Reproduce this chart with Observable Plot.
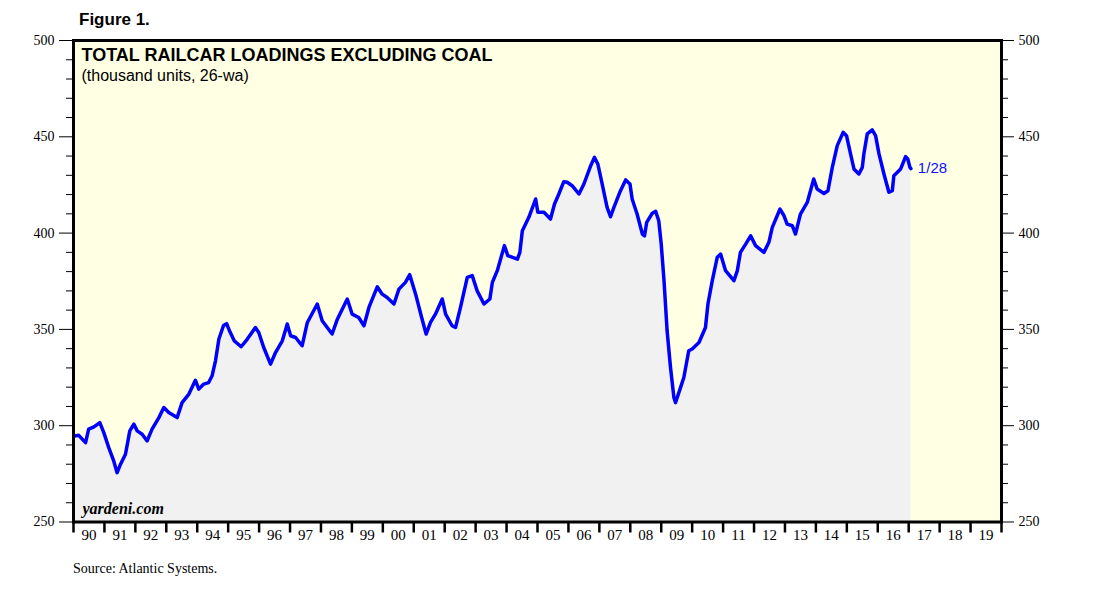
<!DOCTYPE html>
<html>
<head>
<meta charset="utf-8">
<script src="https://cdn.jsdelivr.net/npm/d3@7"></script>
<script src="https://cdn.jsdelivr.net/npm/@observablehq/plot@0.6"></script>
<style>
  html, body { margin: 0; padding: 0; background: #fff; }
  #wrap { position: relative; width: 1102px; height: 603px; overflow: hidden; }
  #fig { position: absolute; left: 79px; top: 10px; font: bold 17px "Liberation Sans", Arial, sans-serif; color: #000; }
  #src { position: absolute; left: 73px; top: 561px; font: 14px "Liberation Serif", "Times New Roman", serif; color: #000; }
  svg { position: absolute; left: 0; top: 0; }
</style>
</head>
<body>
<div id="wrap">
  <div id="fig">Figure 1.</div>
  <div id="src">Source: Atlantic Systems.</div>
</div>
<script>
// Decimal year of each reading
const dates = [1990.03,1990.17,1990.39,1990.49,1990.66,1990.85,1990.98,1991.14,1991.30,1991.41,1991.52,1991.68,1991.82,1991.95,
1992.06,1992.22,1992.38,1992.54,1992.76,1992.92,1993.08,1993.35,1993.51,1993.73,1993.94,1994.05,1994.21,1994.37,1994.48,1994.59,
1994.70,1994.85,1994.95,1995.05,1995.20,1995.42,1995.62,1995.88,1995.99,1996.15,1996.37,1996.53,1996.75,1996.91,1997.02,1997.18,
1997.39,1997.56,1997.88,1998.04,1998.36,1998.53,1998.85,1999.01,1999.22,1999.39,1999.55,1999.82,1999.98,2000.14,2000.36,2000.52,
2000.73,2000.87,2001.06,2001.27,2001.40,2001.54,2001.70,2001.92,2002.03,2002.24,2002.35,2002.51,2002.73,2002.89,2003.05,2003.27,
2003.46,2003.54,2003.70,2003.93,2004.04,2004.35,2004.43,2004.51,2004.72,2004.94,2005.01,2005.21,2005.42,2005.55,2005.69,2005.85,
2005.96,2006.12,2006.34,2006.50,2006.72,2006.84,2006.95,2007.09,2007.25,2007.36,2007.47,2007.66,2007.85,2007.99,2008.06,2008.22,
2008.39,2008.46,2008.53,2008.71,2008.82,2008.92,2009.00,2009.09,2009.19,2009.30,2009.41,2009.46,2009.57,2009.73,2009.89,2010.00,
2010.22,2010.43,2010.51,2010.65,2010.81,2010.92,2011.08,2011.35,2011.46,2011.56,2011.73,2011.89,2012.05,2012.32,2012.48,2012.59,
2012.84,2012.97,2013.07,2013.24,2013.34,2013.50,2013.72,2013.93,2014.04,2014.26,2014.39,2014.53,2014.69,2014.88,2014.99,2015.12,
2015.23,2015.39,2015.50,2015.55,2015.66,2015.82,2015.93,2016.04,2016.20,2016.36,2016.47,2016.52,2016.74,2016.90,2016.97,2017.04,2017.07];

// Total railcar loadings excluding coal (thousand units, 26-wa)
const values = [294.7,295.0,291.2,298.2,299.4,301.6,296.4,288.6,281.7,275.6,280.0,285.2,297.3,300.8,
297.3,295.6,292.1,298.2,304.2,309.4,306.8,304.2,312.0,316.4,323.6,319.0,321.6,322.4,325.9,333.7,
345.0,352.0,353.0,349.0,344.0,341.0,345.0,351.0,348.4,340.6,332.0,338.0,344.1,352.8,346.7,345.8,
341.5,353.6,363.2,354.5,347.6,355.3,365.8,357.9,356.2,351.9,361.4,372.1,368.3,366.6,363.2,370.9,
374.4,378.4,368.3,355.3,347.6,353.6,357.9,365.8,357.9,351.9,351.0,361.4,377.0,377.9,370.0,363.2,
365.8,374.4,380.5,393.5,388.3,386.5,390.0,401.2,408.2,417.7,410.8,410.8,407.3,415.1,420.3,426.7,
426.4,424.6,420.3,425.5,435.0,439.3,435.9,425.5,413.4,408.5,413.4,421.2,427.6,425.5,417.7,409.9,
399.5,398.6,405.6,410.3,411.3,406.4,394.3,375.3,349.3,330.2,314.6,312.0,317.2,325.0,338.9,339.8,
343.2,351.0,363.2,375.3,387.4,389.1,380.5,375.3,380.5,390.0,394.3,398.6,393.5,390.0,395.2,403.0,
412.5,409.0,404.7,403.8,399.5,409.9,415.9,428.1,422.9,420.6,422.0,434.1,445.4,452.3,450.6,441.1,
433.3,430.7,434.1,441.1,451.5,453.6,450.6,441.1,430.7,421.2,422.0,429.8,433.3,439.7,438.5,434.1,433.5];

const yearTicks = d3.range(1990, 2021);
const yearLabels = ["90","91","92","93","94","95","96","97","98","99","00","01","02","03","04","05","06","07","08","09",
  "10","11","12","13","14","15","16","17","18","19"];
const yMajor = [250, 300, 350, 400, 450, 500];
const yMinor = d3.range(250, 501, 10).filter(v => v % 50 !== 0);
const endLabel = "1/28";

const data = dates.map((t, i) => ({t, v: values[i]}));
const midYears = yearLabels.map((_, i) => 1990 + i + 0.5);
const serif = "Liberation Serif, Times New Roman, serif";
const sans = "Liberation Sans, Arial, sans-serif";

const chart = Plot.plot({
  width: 1102,
  height: 603,
  marginLeft: 73,
  marginRight: 101,
  marginTop: 40,
  marginBottom: 81.5,
  style: {background: "transparent", overflow: "visible"},
  x: {domain: [1990, 2020], axis: null},
  y: {domain: [250, 500], axis: null},
  marks: [
    Plot.frame({fill: "#FFFFE3", stroke: "none"}),
    Plot.areaY(data, {x: "t", y1: () => 250, y2: "v", fill: "#F1F1F1"}),
    Plot.lineY(data, {x: "t", y: "v", stroke: "#0000FF", strokeWidth: 3.5, strokeLinejoin: "round"}),
    Plot.text([data[data.length - 1]], {x: "t", y: "v", text: () => endLabel, dx: 7, dy: 0, textAnchor: "start",
      fill: "#1010FF", fontSize: 15, fontFamily: sans}),
    Plot.frame({stroke: "#000", strokeWidth: 3}),
    Plot.axisY({anchor: "left", ticks: yMajor, tickSize: 14, tickPadding: 5, fontSize: 14, fontFamily: serif, stroke: "#000", color: "#000", label: null}),
    Plot.axisY({anchor: "left", ticks: yMinor, tickSize: 7, text: null, stroke: "#000", label: null}),
    Plot.axisY({anchor: "right", ticks: yMajor, tickSize: 12, tickPadding: 5, fontSize: 14, fontFamily: serif, stroke: "#000", color: "#000", label: null}),
    Plot.axisY({anchor: "right", ticks: yMinor, tickSize: 6, text: null, stroke: "#000", label: null}),
    Plot.axisX({anchor: "bottom", ticks: yearTicks, tickSize: 11, text: null, strokeWidth: 2.5, stroke: "#000", label: null}),
    Plot.axisX({anchor: "bottom", ticks: midYears, tickSize: 0, tickPadding: 7, fontSize: 15, fontFamily: serif, color: "#000", label: null,
      tickFormat: d => yearLabels[Math.floor(d) - 1990]}),
    Plot.text(["TOTAL RAILCAR LOADINGS EXCLUDING COAL"], {frameAnchor: "top-left", dx: 8, dy: 20, lineAnchor: "bottom",
      fontSize: 18, fontWeight: "bold", fontFamily: sans, fill: "#000"}),
    Plot.text(["(thousand units, 26-wa)"], {frameAnchor: "top-left", dx: 8, dy: 40, lineAnchor: "bottom",
      fontSize: 16, fontFamily: sans, fill: "#000"}),
    Plot.text(["yardeni.com"], {frameAnchor: "bottom-left", dx: 9, dy: -8, lineAnchor: "bottom",
      fontSize: 16, fontWeight: "bold", fontStyle: "italic", fontFamily: serif, fill: "#000"})
  ]
});
document.getElementById("wrap").prepend(chart);
</script>
</body>
</html>
